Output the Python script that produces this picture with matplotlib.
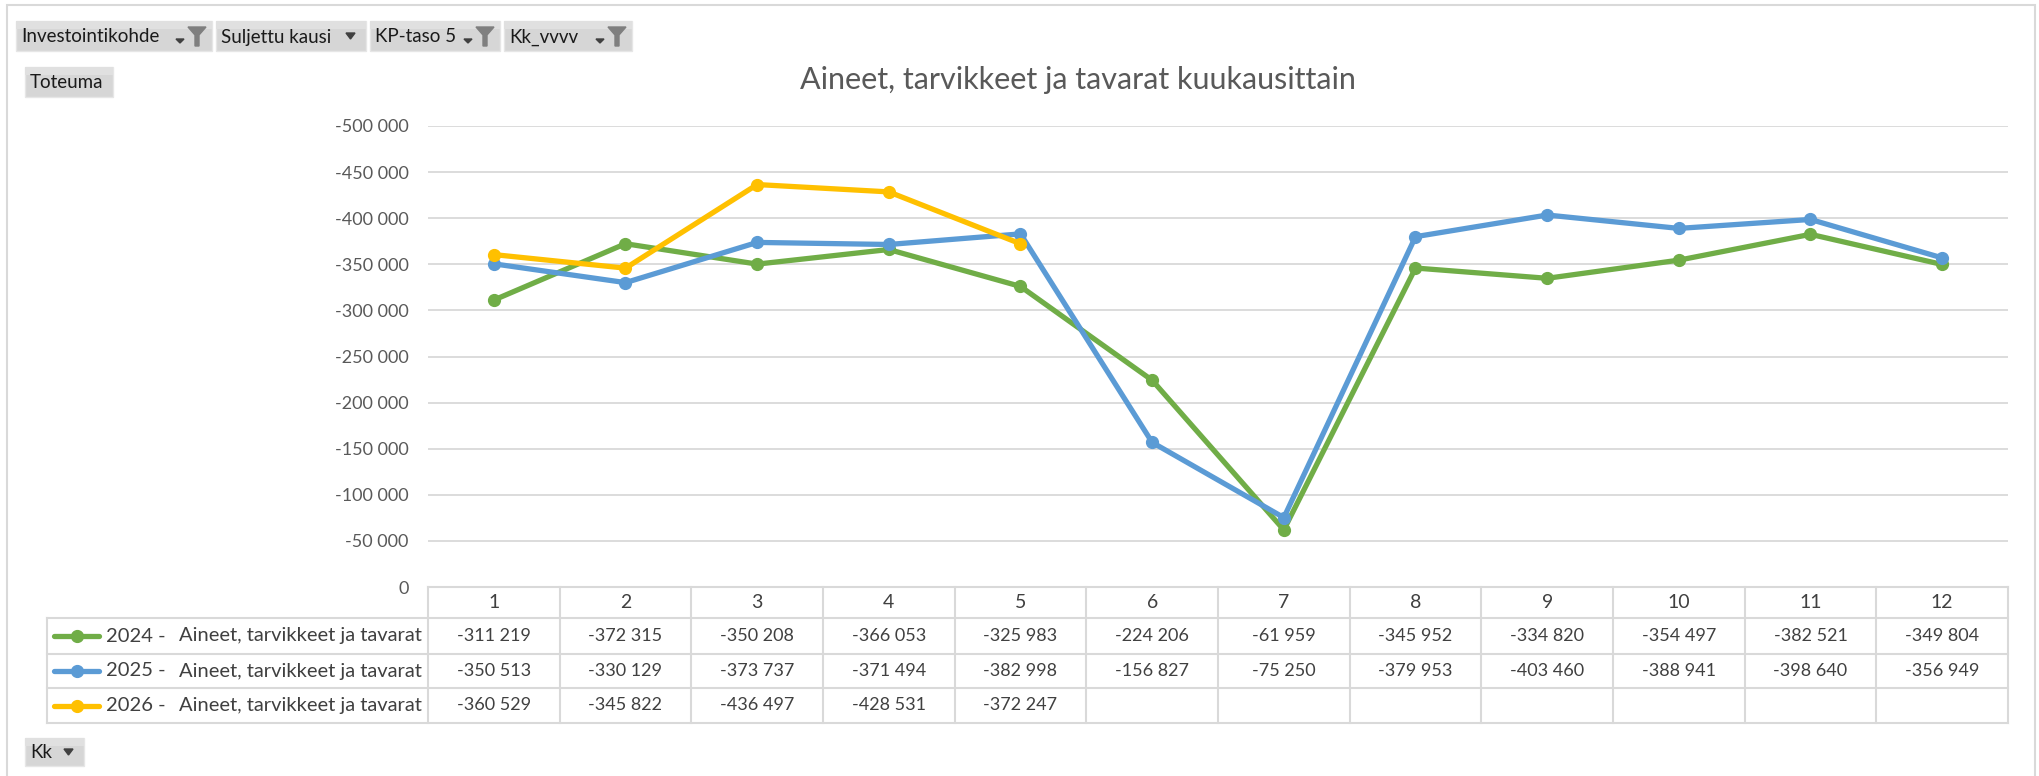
import matplotlib
matplotlib.use("Agg")
import matplotlib.pyplot as plt
import matplotlib.transforms as mtransforms
from matplotlib.patches import Rectangle, Polygon
from matplotlib.lines import Line2D
from matplotlib.ticker import FuncFormatter, MultipleLocator

months = [1, 2, 3, 4, 5, 6, 7, 8, 9, 10, 11, 12]
years = ["2024", "2025", "2026"]
toteuma_2024 = [-311219, -372315, -350208, -366053, -325983, -224206,
                -61959, -345952, -334820, -354497, -382521, -349804]
toteuma_2025 = [-350513, -330129, -373737, -371494, -382998, -156827,
                -75250, -379953, -403460, -388941, -398640, -356949]
toteuma_2026 = [-360529, -345822, -436497, -428531, -372247]
series_label = "Aineet, tarvikkeet ja tavarat"
colors = ["#70AD47", "#5B9BD5", "#FFC000"]

W, H = 2040, 776
plt.rcParams['font.family'] = ['Lato', 'DejaVu Sans']
fig = plt.figure(figsize=(W / 100, H / 100), dpi=100)


def fx(x):
    return x / W


def fy(y):
    return 1 - y / H


def fmt(v):
    return f"{v:,.0f}".replace(",", " ")


# outer frame
fig.patches.append(Rectangle((fx(7), fy(790)), fx(2035) - fx(7), fy(5) - fy(790),
                             transform=fig.transFigure, fill=False,
                             edgecolor="#D9D9D9", lw=1.5))

# plot area
L, R, T, B = 428, 2008, 126, 587
ax = fig.add_axes([fx(L), fy(B), fx(R) - fx(L), fy(T) - fy(B)])
all_series = [toteuma_2024, toteuma_2025, toteuma_2026]
for vals, c in zip(all_series, colors):
    ax.plot(months[:len(vals)], vals, color=c, lw=3.8, marker='o', ms=8.5,
            solid_capstyle='round', zorder=3)
ax.set_xlim(0.5, 12.5)
ax.set_ylim(0, -500000)
ax.yaxis.set_major_locator(MultipleLocator(50000))
ax.yaxis.set_major_formatter(FuncFormatter(lambda v, p: fmt(v)))
ax.grid(axis='y', color="#D9D9D9", lw=1.3)
ax.set_axisbelow(True)
for s in ax.spines.values():
    s.set_visible(False)
ax.set_xticks([])
ax.tick_params(axis='y', length=0, pad=14, labelsize=13, labelcolor="#595959")

fig.text(fx(1078), fy(80), "Aineet, tarvikkeet ja tavarat kuukausittain",
         ha='center', va='center', fontsize=22, color="#595959")

# data table under the chart
tr = mtransforms.blended_transform_factory(ax.transData, fig.transFigure)
grid_c = "#D9D9D9"
rows_y = [587, 618, 654, 688, 723]
for i in range(13):
    x = 0.5 + i
    fig.add_artist(Line2D([x, x], [fy(587), fy(723)], transform=tr,
                          color=grid_c, lw=1.5))
fig.add_artist(Line2D([0.5, 12.5], [fy(587), fy(587)], transform=tr,
                      color=grid_c, lw=1.5))
for y in rows_y[1:]:
    fig.add_artist(Line2D([fx(47), fx(R)], [fy(y), fy(y)],
                          transform=fig.transFigure, color=grid_c, lw=1.5))
fig.add_artist(Line2D([fx(47), fx(47)], [fy(618), fy(723)],
                      transform=fig.transFigure, color=grid_c, lw=1.5))

for m in months:
    ax.text(m, fy(603), str(m), transform=tr, ha='center', va='center',
            fontsize=14, color="#404040")

row_mid = [636, 671, 705.5]
for yr, vals, c, ym in zip(years, all_series, colors, row_mid):
    fig.add_artist(Line2D([fx(54), fx(99)], [fy(ym), fy(ym)],
                          transform=fig.transFigure, color=c, lw=3.8,
                          solid_capstyle='round'))
    fig.add_artist(Line2D([fx(77)], [fy(ym)], transform=fig.transFigure,
                          marker='o', ms=8.5, color=c))
    fig.text(fx(106), fy(ym), yr + " -", ha='left', va='center',
             fontsize=14.5, color="#404040")
    fig.text(fx(422), fy(ym), series_label, ha='right', va='center',
             fontsize=14.5, color="#404040")
    for m, v in zip(months, vals):
        ax.text(m, fy(ym), fmt(v), transform=tr, ha='center', va='center',
                fontsize=13, color="#404040")


# pivot field buttons
def button(x0, x1, y0, y1, label, funnel=False):
    fig.patches.append(Rectangle((fx(x0), fy(y1)), fx(x1) - fx(x0), fy(y0) - fy(y1),
                                 transform=fig.transFigure, facecolor="#D6D6D6",
                                 edgecolor="#E6E6E6", lw=1))
    fig.patches.append(Rectangle((fx(x0), fy(y0 + 8)), fx(x1) - fx(x0), fy(y0) - fy(y0 + 8),
                                 transform=fig.transFigure, facecolor="#E0E0E0",
                                 edgecolor="none"))
    ym = (y0 + y1) / 2
    fig.text(fx(x0 + 5), fy(ym + 1), label, ha='left', va='center',
             fontsize=13.5, color="#1A1A1A")
    if funnel is None:
        return
    if funnel:
        # small arrow + funnel icon
        ax_ = x1 - 36
        fig.patches.append(Polygon([(fx(ax_), fy(ym + 3)), (fx(ax_ + 8), fy(ym + 3)),
                                    (fx(ax_ + 4), fy(ym + 7))],
                                   transform=fig.transFigure, color="#404040"))
        f0 = x1 - 24
        fig.patches.append(Polygon([(fx(f0), fy(ym - 9)), (fx(f0 + 18), fy(ym - 9)),
                                    (fx(f0 + 11), fy(ym - 1)), (fx(f0 + 11), fy(ym + 10)),
                                    (fx(f0 + 7), fy(ym + 10)), (fx(f0 + 7), fy(ym - 1))],
                                   transform=fig.transFigure, color="#7F7F7F"))
    else:
        a = x1 - 20
        fig.patches.append(Polygon([(fx(a), fy(ym - 3)), (fx(a + 9), fy(ym - 3)),
                                    (fx(a + 4.5), fy(ym + 3))],
                                   transform=fig.transFigure, color="#404040"))


button(16, 212, 21, 51, "Investointikohde", funnel=True)
button(216, 366, 21, 51, "Suljettu kausi", funnel=False)
button(370, 500, 21, 51, "KP-taso 5", funnel=True)
button(504, 632, 21, 51, "Kk_vvvv", funnel=True)
button(25, 113, 67, 97, "Toteuma", funnel=None)
button(25, 84, 738, 766, "Kk", funnel=False)

fig.savefig("out.png", dpi=100)
